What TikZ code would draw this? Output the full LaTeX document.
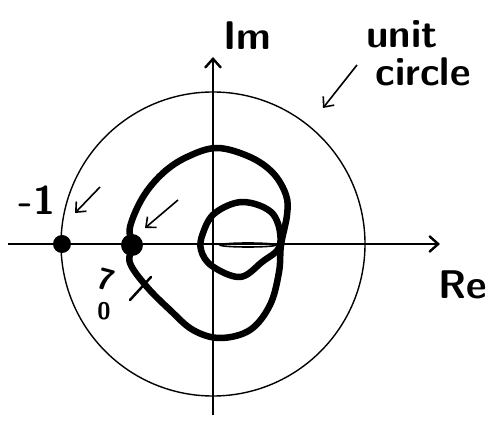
\documentclass[tikz,border=0pt]{standalone}
\usepackage{fontspec}
\usepackage{tikz}
\usetikzlibrary{arrows.meta, positioning, calc}
\tikzstyle{axis} = [line width=1.8pt, -{Straight Barb[length=9pt,width=16pt,line width=2.4pt]}]
\tikzstyle{pointer} = [line width=1.6pt, -{Straight Barb[length=8pt,width=14pt]}]
\tikzstyle{curve} = [line width=6.5pt, line join=round, line cap=round]
\tikzstyle{hand} = [font=\sffamily\bfseries, inner sep=0pt]
\tikzstyle{dot} = [circle, fill=black, inner sep=0pt]

\begin{document}
\begin{tikzpicture}[x=1pt, y=-1pt]
        \useasboundingbox (0,0) rectangle (498,427);
        % axes
        \coordinate (o) at (213,244);
        \coordinate (xl) at (8,244);
        \coordinate (xr) at (440,244);
        \coordinate (yb) at (213,415);
        \coordinate (yt) at (213,57);
        \draw [axis] (xl) -- (xr);
        \draw [axis] (yb) -- (yt);
        \draw [line width=1.4pt] (o) circle (152);

        % nyquist curve
        \draw [curve] plot[smooth cycle, tension=0.6] coordinates {(132,245) (130,227) (143,197) (163,173) (187,157) (217,148) (250,157) (273,173) (286,195) (287,215) (281,245) (279,272) (270,305) (250,330) (220,338) (193,330) (170,310) (147,287) (130,263)};
        \draw [curve] plot[smooth cycle, tension=0.6] coordinates {(203,233) (215,213) (243,202) (273,214) (280,245) (262,262) (240,277) (212,266) (201,250)};
        \draw [line width=1.6pt] (248,245) ellipse (28 and 2);
        \draw [line width=2.5pt, line cap=round] (130,300) -- (151,277);

        % points
        \node (m1) [dot, minimum size=18pt] at (62,244) {};
        \node (w0) [dot, minimum size=22pt] at (132,245) {};

        % labels
        \node (im) [hand, font=\sffamily\bfseries\fontsize{40}{42}\selectfont] at (247,36) {Im};
        \node (re) [hand, font=\sffamily\bfseries\fontsize{40}{42}\selectfont] at (463,285) {Re};
        \node (unit) [hand, font=\sffamily\bfseries\fontsize{40}{44}\selectfont] at (402,34) {unit};
        \node (circ) [hand, font=\sffamily\bfseries\fontsize{40}{44}\selectfont] at (423,72) {circle};
        \node (mone) [hand, font=\sffamily\bfseries\fontsize{40}{42}\selectfont] at (37,200) {-1};
        \node (seven) [hand, font=\sffamily\bfseries\fontsize{30}{32}\selectfont, rotate=-15] at (106,280) {7};
        \node (zero) [hand, font=\sffamily\bfseries\fontsize{24}{26}\selectfont] at (104,311) {0};

        % pointers
        \coordinate (p1) at (357,65);
        \coordinate (q1) at (323,108);
        \coordinate (p2) at (100,187);
        \coordinate (q2) at (75,213);
        \coordinate (p3) at (178,200);
        \coordinate (q3) at (145,228);
        \draw [pointer] (p1) -- (q1);
        \draw [pointer] (p2) -- (q2);
        \draw [pointer] (p3) -- (q3);
    \end{tikzpicture}
\end{document}
